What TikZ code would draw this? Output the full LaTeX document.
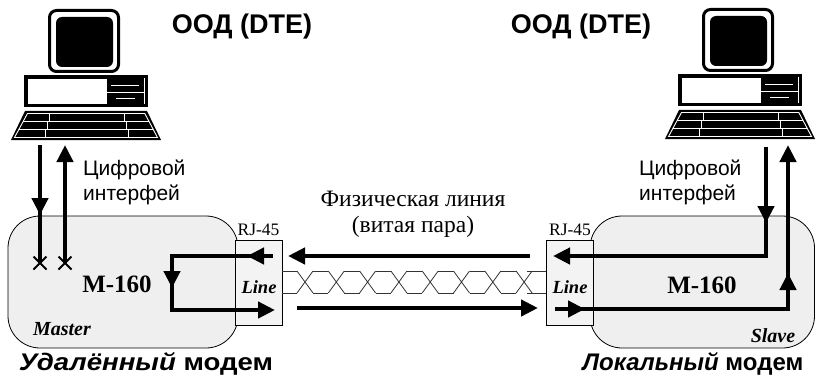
\documentclass[tikz,border=0pt]{standalone}
\usepackage{fontspec}
\setmainfont{Liberation Serif}
\setsansfont{Liberation Sans}
\usetikzlibrary{arrows.meta}
\definecolor{modemfill}{HTML}{EFEFEF}
\definecolor{portfill}{HTML}{F3F3F3}

% desktop computer icon (monitor, system unit, keyboard)
\newcommand\pcicon[1]{%
\begin{scope}[shift={#1}]
  \draw[line width=3pt, fill=white, rounded corners=7pt] (49.5,10.5) rectangle (118.5,71.5);
  \fill[rounded corners=6pt] (56,17) rectangle (113,67);
  \fill (24,75) rectangle (148,107);
  \fill[white] (28,79) rectangle (107,104);
  \draw[white, line width=0.8pt] (107,92) -- (144,92) (144,78) -- (144,104)
        (111,85.5) -- (139,85.5) (116,98) -- (135,98);
  \fill (25,111) -- (147,111) -- (161,140) -- (11,140) -- cycle;
  \draw[white, line width=0.9pt] (27.5,113.5) -- (144.8,113.5) -- (157.5,137.5) -- (14.5,137.5) -- cycle;
  \draw[white, line width=0.9pt] (23.4,121) -- (148.8,121) (19.1,129) -- (153,129)
        (49,113.5) -- (49,121) (124.5,113.5) -- (124.5,121)
        (47.5,121) -- (47.5,129) (126,121) -- (126,129)
        (45.5,129) -- (45.5,137.5) (128,129) -- (128,137.5);
\end{scope}}

\tikzset{
  sig/.style={line width=4.5pt},
  tip/.style={-{Triangle[length=17pt,width=16pt]}},
  wire/.style={line width=0.8pt, black!80},
  modem/.style={draw, line width=0.8pt, fill=modemfill, rounded corners=32pt},
  port/.style={draw, line width=0.8pt, fill=portfill, minimum width=47pt, minimum height=85pt, inner sep=0pt},
  dte/.style={font=\sffamily\bfseries\fontsize{27}{30}\selectfont},
  iface/.style={font=\sffamily\fontsize{21}{25}\selectfont, align=left, inner sep=0pt},
  model/.style={font=\bfseries\fontsize{25}{28}\selectfont},
  role/.style={font=\bfseries\itshape\fontsize{20}{22}\selectfont},
  linelbl/.style={font=\bfseries\itshape\fontsize{18.5}{20}\selectfont},
  rj/.style={font=\fontsize{17.5}{19}\selectfont},
  phys/.style={font=\fontsize{23.5}{26}\selectfont, align=center, inner sep=0pt},
  caption/.style={font=\sffamily\bfseries\fontsize{24}{26}\selectfont},
}

\begin{document}
\begin{tikzpicture}[x=1pt, y=-1pt]
\useasboundingbox (0,0) rectangle (816,377);

% computers
\pcicon{(0,0)}
\pcicon{(654,-1)}
\node[dte] (dteL) at (242,27) {ООД (DTE)};
\node[dte] (dteR) at (581,27) {ООД (DTE)};

% modem bodies
\draw[modem] (8,216) rectangle (238,348);
\draw[modem] (590,216) rectangle (814.5,348);

% RJ-45 ports
\node[port] (portL) at (258.5,282.5) {};
\node[port] (portR) at (570,282.5) {};
\node[rj, anchor=south] (rjL) at (portL.north) {RJ-45};
\node[rj, anchor=south] (rjR) at (portR.north) {RJ-45};
\node[linelbl] (lnL) at (259,287) {Line};
\node[linelbl] (lnR) at (570,287) {Line};

% twisted pair between the ports
\coordinate (tpA) at (portL.east |- 0,271);
\coordinate (tpB) at (portR.west |- 0,271);
\foreach \k in {0,...,7}{
  \pgfmathsetmacro\xc{305+31.3*\k}
  \draw[wire] (\xc-8,271) -- (\xc+8,293) (\xc-8,293) -- (\xc+8,271);
  \ifnum\k<7
    \draw[wire] (\xc+8,271) -- (\xc+23.3,271) (\xc+8,293) -- (\xc+23.3,293);
  \fi
}
\draw[wire] (tpA) -- (297,271) (tpA |- 0,293) -- (297,293);
\draw[wire] (tpB) -- (527.1,271) (tpB |- 0,293) -- (527.1,293);

% text labels
\node[model] (mL) at (117,284) {M-160};
\node[model] (mR) at (702,285) {M-160};
\node[role] (master) at (62,329) {Master};
\node[role] (slave) at (773,336) {Slave};
\node[iface, anchor=north west] (ifL) at (83,160) {Цифровой\\интерфей};
\node[iface, anchor=north west] (ifR) at (639,160) {Цифровой\\интерфей};
\node[phys] (phys) at (413,214) {Физическая линия\\(витая пара)};
\node[caption] (capL) at (146,364) {\scalebox{1.15}[1]{\itshape Удалённый\upshape\ модем}};
\node[caption] (capR) at (693,364) {\itshape Локальный\upshape\ модем};

% digital interface, remote side
\coordinate (aL1) at (40,145);
\coordinate (xL1) at (40,263);
\coordinate (aL2) at (65,145);
\coordinate (xL2) at (65,263);
\draw[sig] (aL1) -- (xL1);
\draw[sig, tip] (40,196) -- (40,215);
\draw[sig, tip] (xL2) -- (aL2);
\foreach \c in {xL1, xL2}
  \draw[line width=2pt] (\c) ++(-6.5,-6.5) -- ++(13,13) (\c) ++(-6.5,6.5) -- ++(13,-13);

% loop inside the remote modem
\coordinate (lIn) at (273,256);
\coordinate (lC1) at (172,256);
\coordinate (lC2) at (172,310);
\coordinate (lOut) at (275,310);
\draw[sig, tip] (lIn) -- (lC1) -- (lC2) -- (lOut);
\draw[sig, tip] (266,256) -- (247,256);
\draw[sig, tip] (172,270) -- (172,288);

% physical line directions
\coordinate (mTopR) at (530,256);
\coordinate (mTopL) at (288,256);
\coordinate (mBotL) at (297,308);
\coordinate (mBotR) at (538,308);
\draw[sig, tip] (mTopR) -- (mTopL);
\draw[sig, tip] (mBotL) -- (mBotR);

% path through the local modem
\coordinate (rD) at (766,147);
\coordinate (rC1) at (766,256);
\coordinate (rOut) at (553,256);
\coordinate (rIn) at (555,309);
\coordinate (rC2) at (788,309);
\coordinate (rU) at (788,145);
\draw[sig, tip] (rD) -- (rC1) -- (rOut);
\draw[sig, tip] (766,204) -- (766,223);
\draw[sig, tip] (rIn) -- (rC2) -- (rU);
\draw[sig, tip] (566,309) -- (585,309);
\draw[sig, tip] (788,292) -- (788,273);
\end{tikzpicture}
\end{document}
